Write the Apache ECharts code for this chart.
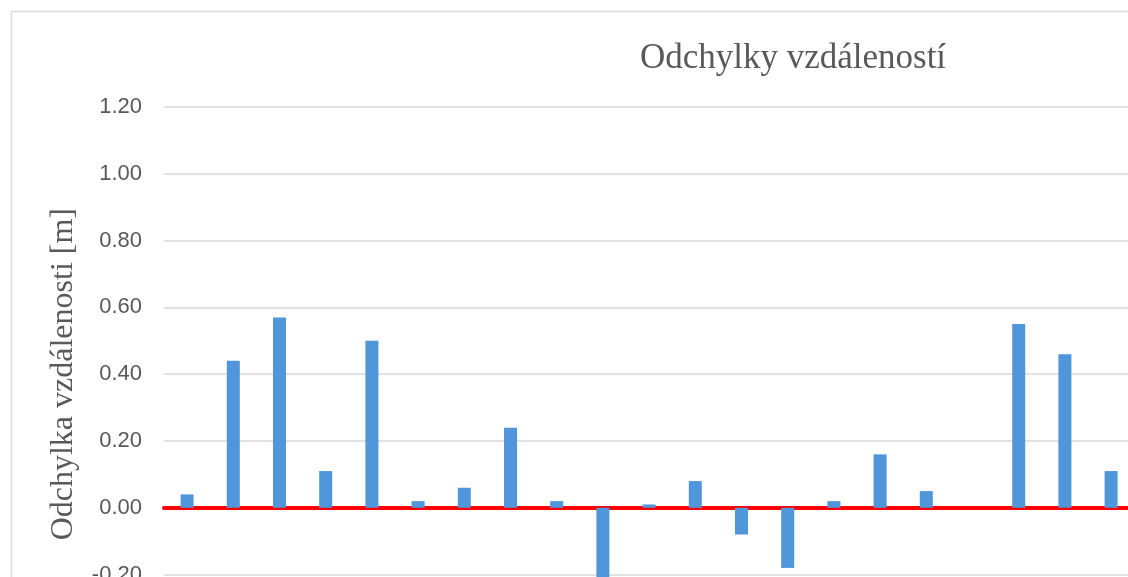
<!DOCTYPE html>
<html>
<head>
<meta charset="utf-8">
<script src="https://cdn.jsdelivr.net/npm/echarts@6/dist/echarts.min.js"></script>
<style>html,body{margin:0;padding:0;background:#fff;overflow:hidden;width:1128px;height:577px;}#wrap{width:1128px;height:577px;overflow:hidden;position:relative;}#c{width:1300px;height:760px;position:absolute;left:0;top:0;}</style>
</head>
<body>
<div id="wrap"><div id="c"></div></div>
<script>
const titleText = 'Odchylky vzdáleností';
const yAxisName = 'Odchylka vzdálenosti [m]';
const categories = ['1','2','3','4','5','6','7','8','9','10','11','12','13','14','15','16','17','18','19','20','21'];
const deviations = [0.04, 0.44, 0.57, 0.11, 0.50, 0.02, 0.06, 0.24, 0.02, -0.25, 0.01, 0.08, -0.08, -0.18, 0.02, 0.16, 0.05, 0, 0.55, 0.46, 0.11];
const yMin = -0.4, yMax = 1.2, yStep = 0.2;

const chart = echarts.init(document.getElementById('c'), null, {renderer: 'canvas'});
chart.setOption({
  animation: false,
  backgroundColor: '#ffffff',
  graphic: [{
    type: 'rect', z: -10,
    shape: {x: 11.5, y: 11.5, width: 1250, height: 720},
    style: {fill: 'none', stroke: '#d9d9d9', lineWidth: 1.5}
  }],
  title: {
    text: titleText,
    left: 788, top: 36, textAlign: 'center',
    textStyle: {fontFamily: 'Liberation Serif', fontSize: 35, fontWeight: 'normal', color: '#595959'}
  },
  grid: {left: 164, top: 107, width: 970.2, height: 534.4, containLabel: false},
  xAxis: {
    type: 'category',
    data: categories,
    axisTick: {show: false},
    axisLabel: {show: false},
    axisLine: {show: true, onZero: true, lineStyle: {color: '#ff0000', width: 4}},
    splitLine: {show: false}
  },
  yAxis: {
    type: 'value',
    min: yMin, max: yMax, interval: yStep,
    name: yAxisName,
    nameLocation: 'middle',
    nameRotate: 90,
    nameGap: 84,
    nameTextStyle: {fontFamily: 'Liberation Serif', fontSize: 32, color: '#595959'},
    axisLine: {show: false},
    axisTick: {show: false},
    axisLabel: {
      margin: 22,
      fontFamily: 'Liberation Sans', fontSize: 22, color: '#595959',
      formatter: v => (Math.abs(v) < 1e-9 ? 0 : v).toFixed(2)
    },
    splitLine: {lineStyle: {color: '#d9d9d9', width: 1.5}}
  },
  series: [{
    type: 'bar',
    data: deviations,
    barWidth: 13,
    itemStyle: {color: '#5096da'}
  }]
});
</script>
</body>
</html>
